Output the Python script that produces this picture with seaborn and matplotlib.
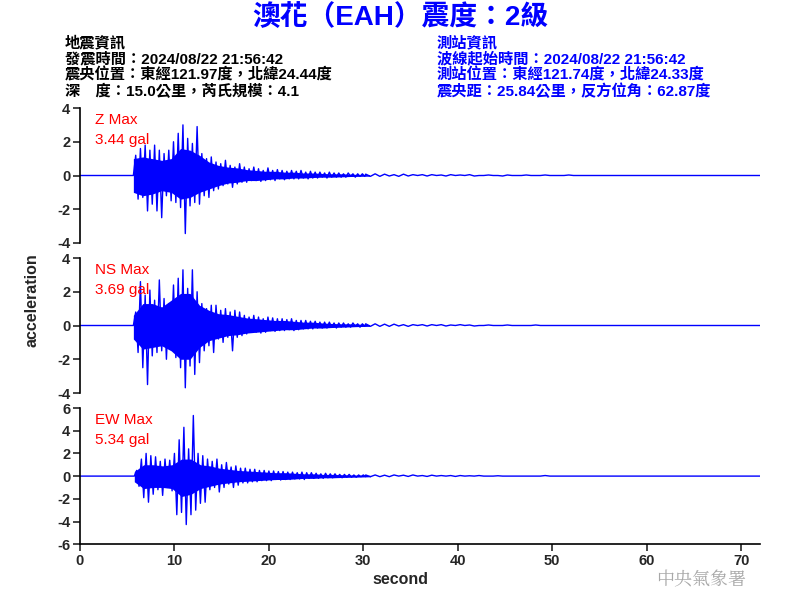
import numpy as np
import matplotlib
matplotlib.use("Agg")
import matplotlib.pyplot as plt
import seaborn as sns

sns.set_style("white")
plt.rcParams['font.family'] = ['Liberation Sans', 'Noto Sans CJK TC', 'DejaVu Sans']
plt.rcParams['axes.unicode_minus'] = False

# --- datos (gal) ---
titulo = "澳花（EAH）震度：2級"
info_sismo = ["地震資訊",
              "發震時間：2024/08/22 21:56:42",
              "震央位置：東經121.97度，北緯24.44度",
              "深　度：15.0公里，芮氏規模：4.1"]
info_estacion = ["測站資訊",
                 "波線起始時間：2024/08/22 21:56:42",
                 "測站位置：東經121.74度，北緯24.33度",
                 "震央距：25.84公里，反方位角：62.87度"]

canales = ["Z", "NS", "EW"]
maximos = [3.44, 3.69, 5.34]
limites = [4, 4, 6]
inicio = [5.65, 5.65, 5.75]        # llegada de la onda (s)
paso_core = 0.25                   # muestreo de los picos leidos
paso_cuerpo = 1.0                  # muestreo de la envolvente solida
paso_cola = 0.5
inicio_cola = 30.25
fin = 72

# picos (alternando arriba / abajo)
z_core = [1.2, -1.4, 1.6, -1.3, 1.8, -2.1, 1.5, -1.7, 1.8, -2.1,
          1.5, -2.5, 1.3, -1.2, 1.5, -1.5, 2.0, -1.6, 2.5, -1.9,
          3.0, -3.44, 2.2, -1.8, 1.9, -1.6, 2.9, -1.7, 1.3, -1.2,
          1.0, -1.3, 1.1, -0.9, 0.8, -0.8, 0.7, -0.6, 0.9, -0.5,
          0.6, -0.7, 0.5, -0.5, 0.7, -0.4, 0.5, -0.4, 0.4, -0.3,
          0.5, -0.3, 0.4, -0.35, 0.3, -0.3, 0.45, -0.25, 0.3, -0.3,
          0.35, -0.2, 0.3, -0.25, 0.25, -0.2, 0.3, -0.2, 0.25, -0.2,
          0.3, -0.15, 0.2, -0.2, 0.25, -0.15, 0.2, -0.15, 0.2, -0.1,
          0.15, -0.15, 0.2, -0.1, 0.15, -0.1, 0.15, -0.1, 0.1, -0.1,
          0.15, -0.05, 0.1, -0.1, 0.1, -0.05, 0.1, -0.05]
ns_core = [0.8, -1.6, 2.6, -2.5, 1.8, -3.5, 2.1, -1.8, 1.5, -1.6,
           2.7, -1.5, 1.6, -2.0, 1.3, -1.2, 2.4, -1.9, 2.8, -2.5,
           3.3, -3.69, 2.2, -2.4, 3.3, -2.9, 2.0, -2.2, 1.3, -1.5,
           1.0, -1.2, 1.2, -1.6, 1.2, -0.8, 0.9, -1.0, 1.0, -0.7,
           0.8, -1.5, 0.9, -0.7, 0.8, -0.6, 0.6, -0.5, 0.5, -0.4,
           0.6, -0.4, 0.5, -0.45, 0.4, -0.4, 0.5, -0.3, 0.45, -0.35,
           0.4, -0.3, 0.4, -0.3, 0.35, -0.25, 0.4, -0.3, 0.3, -0.25,
           0.3, -0.2, 0.3, -0.2, 0.25, -0.2, 0.25, -0.15, 0.2, -0.15,
           0.2, -0.15, 0.2, -0.1, 0.15, -0.15, 0.15, -0.1, 0.15, -0.1,
           0.1, -0.1, 0.15, -0.05, 0.1, -0.1, 0.1, -0.05]
ew_core = [0.5, -0.9, 1.5, -1.9, 2.0, -2.3, 1.8, -1.6, 1.7, -1.2,
           1.3, -1.7, 1.5, -1.0, 1.4, -1.3, 2.0, -3.4, 3.2, -3.2,
           4.3, -4.27, 2.4, -3.4, 5.34, -3.0, 2.0, -2.4, 1.8, -2.3,
           1.5, -1.2, 1.3, -1.0, 1.5, -1.4, 1.0, -1.0, 1.2, -0.7,
           0.8, -1.0, 0.9, -0.8, 0.7, -0.6, 0.7, -0.6, 0.6, -0.5,
           0.6, -0.5, 0.5, -0.4, 0.5, -0.4, 0.45, -0.4, 0.45, -0.3,
           0.4, -0.35, 0.4, -0.3, 0.35, -0.3, 0.35, -0.25, 0.3, -0.25,
           0.35, -0.3, 0.3, -0.2, 0.3, -0.2, 0.25, -0.2, 0.2, -0.2,
           0.25, -0.15, 0.2, -0.15, 0.2, -0.1, 0.15, -0.15, 0.15, -0.1,
           0.15, -0.1, 0.1, -0.1, 0.1, -0.05, 0.1, -0.05]

# envolvente solida (cada 1 s desde la llegada)
z_sup = [1.0, 1.1, 1.0, 0.9, 1.0, 1.6, 1.5, 1.2, 0.8, 0.6, 0.5, 0.45, 0.35,
         0.3, 0.25, 0.25, 0.2, 0.2, 0.15, 0.15, 0.12, 0.1, 0.1, 0.08, 0.06, 0.05]
z_inf = [-1.0, -1.2, -1.1, -0.9, -1.0, -1.4, -1.3, -1.0, -0.8, -0.6, -0.45, -0.4, -0.3,
         -0.3, -0.25, -0.2, -0.2, -0.15, -0.15, -0.12, -0.1, -0.1, -0.08, -0.06, -0.05, -0.04]
ns_sup = [0.6, 1.3, 1.3, 1.1, 1.5, 1.9, 1.9, 1.2, 0.9, 0.7, 0.65, 0.55, 0.45,
          0.4, 0.35, 0.3, 0.3, 0.25, 0.2, 0.2, 0.15, 0.12, 0.1, 0.1, 0.08, 0.06]
ns_inf = [-0.8, -1.4, -1.3, -1.2, -1.5, -2.0, -2.0, -1.3, -0.9, -0.75, -0.6, -0.55, -0.45,
          -0.4, -0.35, -0.3, -0.25, -0.25, -0.2, -0.15, -0.15, -0.12, -0.1, -0.08, -0.06, -0.05]
ew_sup = [0.4, 1.0, 1.0, 0.9, 1.0, 1.5, 1.5, 1.0, 0.9, 0.7, 0.6, 0.5, 0.45,
          0.4, 0.35, 0.3, 0.3, 0.25, 0.2, 0.2, 0.15, 0.15, 0.12, 0.1, 0.08, 0.06]
ew_inf = [-0.5, -1.1, -1.0, -1.0, -1.1, -1.8, -1.6, -1.1, -0.9, -0.7, -0.6, -0.5, -0.45,
          -0.4, -0.35, -0.3, -0.3, -0.25, -0.2, -0.2, -0.15, -0.15, -0.12, -0.1, -0.08, -0.06]

z_cola = [0.08, -0.05, 0.1, -0.05, 0.08, -0.03, 0.05, -0.05, 0.08, -0.03,
          0.05, 0, 0.05, -0.03, 0.05, 0, 0.03, -0.03, 0.05, 0,
          0.03, 0, 0.05, -0.03, 0, 0, 0.03, 0, 0, -0.03,
          0.03, 0, 0, 0, 0.03, 0, 0, 0, 0.03, 0,
          0, 0, 0, 0.03, 0, 0, 0, 0, 0, 0]
ns_cola = [0.1, -0.05, 0.1, -0.05, 0.08, -0.05, 0.08, -0.03, 0.05, -0.05,
           0.05, 0, 0.05, -0.03, 0.05, 0, 0.05, -0.03, 0.03, 0,
           0.05, 0, 0.03, -0.03, 0, 0, 0.03, 0, 0, 0,
           0.03, 0, 0, 0, 0, 0, 0.03, 0, 0, 0,
           0, 0, 0, 0, 0, 0, 0, 0, 0, 0]
ew_cola = [0.1, -0.05, 0.1, -0.05, 0.08, -0.05, 0.1, 0, 0.08, -0.03,
           0.1, 0, 0.05, -0.03, 0.08, 0, 0.05, 0, 0.05, -0.03,
           0.05, 0, 0.03, 0, 0.05, 0, 0, 0, 0.03, 0,
           0, 0, 0, 0, 0, 0, 0, 0, 0.05, 0,
           0, 0, 0, 0, 0, 0, 0, 0, 0, 0]

cores = [z_core, ns_core, ew_core]
colas = [z_cola, ns_cola, ew_cola]
sups = [z_sup, ns_sup, ew_sup]
infs = [z_inf, ns_inf, ew_inf]

fig = plt.figure(figsize=(8, 6), dpi=100)
posiciones = [[0.1, 0.595, 0.85, 0.225],
              [0.1, 0.345, 0.85, 0.225],
              [0.1, 0.093, 0.85, 0.227]]

for k in range(3):
    ax = fig.add_axes(posiciones[k])
    core = np.array(cores[k])
    cola = np.array(colas[k])
    t = np.concatenate([[0, inicio[k]],
                        inicio[k] + paso_core * np.arange(1, len(core) + 1),
                        inicio_cola + paso_cola * np.arange(len(cola)),
                        [fin]])
    a = np.concatenate([[0, 0], core, cola, [0]])
    tb = inicio[k] + paso_cuerpo * np.arange(len(sups[k]))
    ax.fill_between(tb, infs[k], sups[k], color='blue', lw=0)
    sns.lineplot(x=t, y=a, ax=ax, color='blue', lw=1.0,
                 estimator=None, sort=False)
    lim = limites[k]
    ax.set_xlim(0, 72)
    ax.set_ylim(-lim, lim)
    ax.set_yticks(np.arange(-lim, lim + 1, 2))
    ax.tick_params(axis='y', direction='out', length=5, width=1.2,
                   labelsize=10.5, left=True, pad=2)
    for lab in ax.get_yticklabels():
        lab.set_fontweight('bold')
    for s in ['top', 'right']:
        ax.spines[s].set_visible(False)
    ax.spines['left'].set_color('black')
    ax.spines['left'].set_linewidth(1.2)
    if k < 2:
        ax.spines['bottom'].set_visible(False)
        ax.set_xticks([])
    else:
        ax.spines['bottom'].set_color('black')
        ax.spines['bottom'].set_linewidth(1.2)
        ax.set_xticks(np.arange(0, 71, 10))
        ax.tick_params(axis='x', direction='out', length=5, width=1.2,
                       labelsize=10.5, bottom=True, pad=2)
        for lab in ax.get_xticklabels():
            lab.set_fontweight('bold')
    ax.text(0.022, 0.91, canales[k] + " Max", transform=ax.transAxes,
            color='red', fontsize=11, va='center')
    ax.text(0.022, 0.765, "%.2f gal" % maximos[k], transform=ax.transAxes,
            color='red', fontsize=11, va='center')

fig.text(0.5, 1 - 18 / 600, titulo, color='blue', fontsize=20,
         fontweight='bold', ha='center', va='center')
for i, linea in enumerate(info_sismo):
    fig.text(65 / 800, 1 - (43 + 16 * i) / 600, linea, color='black',
             fontsize=11, fontweight='bold', va='center')
for i, linea in enumerate(info_estacion):
    fig.text(437 / 800, 1 - (43 + 16 * i) / 600, linea, color='blue',
             fontsize=11, fontweight='bold', va='center')

fig.text(32 / 800, 0.5, "acceleration", rotation=90, fontsize=11.5,
         fontweight='bold', ha='center', va='center')
fig.text(400 / 800, 1 - 580 / 600, "second", fontsize=11.5,
         fontweight='bold', ha='center', va='center')
fig.text(701 / 800, 1 - 580 / 600, "中央氣象署", fontsize=13,
         color='#a8a8a8', ha='center', va='center',
         family=['Noto Serif CJK TC', 'Noto Sans CJK TC'])

fig.savefig("out.png", dpi=100)
